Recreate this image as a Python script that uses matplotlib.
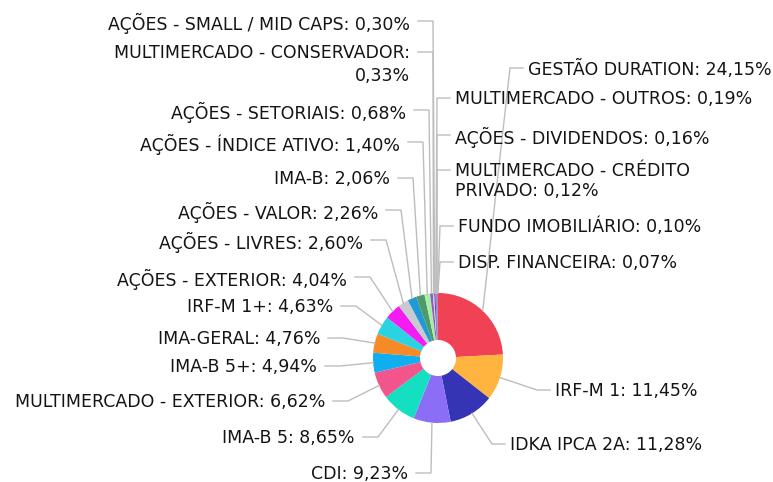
import numpy as np
import matplotlib
matplotlib.use('Agg')
import matplotlib.pyplot as plt

# slice names and shares (%), clockwise from 12 o'clock
names = ['GESTÃO DURATION', 'IRF-M 1', 'IDKA IPCA 2A', 'CDI', 'IMA-B 5',
         'MULTIMERCADO - EXTERIOR', 'IMA-B 5+', 'IMA-GERAL', 'IRF-M 1+',
         'AÇÕES - EXTERIOR', 'AÇÕES - LIVRES', 'AÇÕES - VALOR', 'IMA-B',
         'AÇÕES - ÍNDICE ATIVO', 'AÇÕES - SETORIAIS', 'MULTIMERCADO - CONSERVADOR',
         'AÇÕES - SMALL / MID CAPS', 'MULTIMERCADO - OUTROS', 'AÇÕES - DIVIDENDOS',
         'MULTIMERCADO - CRÉDITO PRIVADO', 'FUNDO IMOBILIÁRIO', 'DISP. FINANCEIRA']
values = [24.15, 11.45, 11.28, 9.23, 8.65, 6.62, 4.94, 4.76, 4.63, 4.04, 2.60,
          2.26, 2.06, 1.40, 0.68, 0.33, 0.30, 0.19, 0.16, 0.12, 0.10, 0.07]
colors = ['#F04155', '#FFB43F', '#3434B4', '#8B6EF5', '#14DFC0', '#F2558B',
          '#0FAEF0', '#F58A27', '#2AD3E2', '#F41CF0', '#C9C9D1', '#2199D4',
          '#4E9A68', '#A6EFA6', '#8E5BC0', '#D0D0D8', '#6A3C96', '#B45AD8',
          '#3F6EC8', '#E0A0E0', '#7A4AA0', '#5C2E86']

# label layout: side, label y (px from top), label edge x (px)
side = ['r', 'r', 'r', 'l', 'l', 'l', 'l', 'l', 'l', 'l', 'l', 'l', 'l', 'l',
        'l', 'l', 'l', 'r', 'r', 'r', 'r', 'r']
label_y = [68, 390, 444, 473, 437, 401, 366, 338, 306, 277, 240, 210, 178, 142,
           110, 52, 21, 98, 135, 170, 226, 262]
label_x = [528, 555, 510, 408, 355, 325, 317, 320, 333, 347, 363, 378, 390, 400,
           406, 410, 410, 455, 455, 455, 458, 458]

W, H = 773, 482
cx, cy = 438, H - 358
R, r_in = 65, 18

fig = plt.figure(figsize=(W / 100, H / 100), dpi=100)
ax = fig.add_axes([0, 0, 1, 1])

ax.pie(values, colors=colors, startangle=90, counterclock=False, radius=R,
       center=(cx, cy), wedgeprops=dict(width=R - r_in, edgecolor='none'))

ax.set_xlim(0, W)
ax.set_ylim(0, H)
ax.set_aspect('auto')
ax.axis('off')

total = sum(values)
cum = np.cumsum([0] + values[:-1])
for i, (name, v) in enumerate(zip(names, values)):
    theta = np.deg2rad(90 - 360 * (cum[i] + v / 2) / total)
    ax0, ay0 = cx + R * np.cos(theta), cy + R * np.sin(theta)
    ly = H - label_y[i]
    text = f"{name}: " + f"{v:.2f}".replace('.', ',') + '%'
    spacing = 1.15
    if name == 'MULTIMERCADO - CONSERVADOR':
        text = text.replace(': ', ':\n')
        spacing = 1.35
    if name == 'MULTIMERCADO - CRÉDITO PRIVADO':
        text = text.replace('CRÉDITO ', 'CRÉDITO\n')
    if side[i] == 'r':
        ex, tx = label_x[i] - 18, label_x[i] - 5
        ha = 'left'
    else:
        ex, tx = label_x[i] + 23, label_x[i] + 8
        ha = 'right'
    ax.plot([ax0, ex, tx], [ay0, ly, ly], color='#bdbdbd', lw=1, zorder=1,
            solid_joinstyle='miter')
    ax.text(label_x[i], ly + 8, text, ha=ha, va='top', fontsize=12.5,
            color='#141414', multialignment=ha, linespacing=spacing)

plt.savefig('out.png', dpi=100)
